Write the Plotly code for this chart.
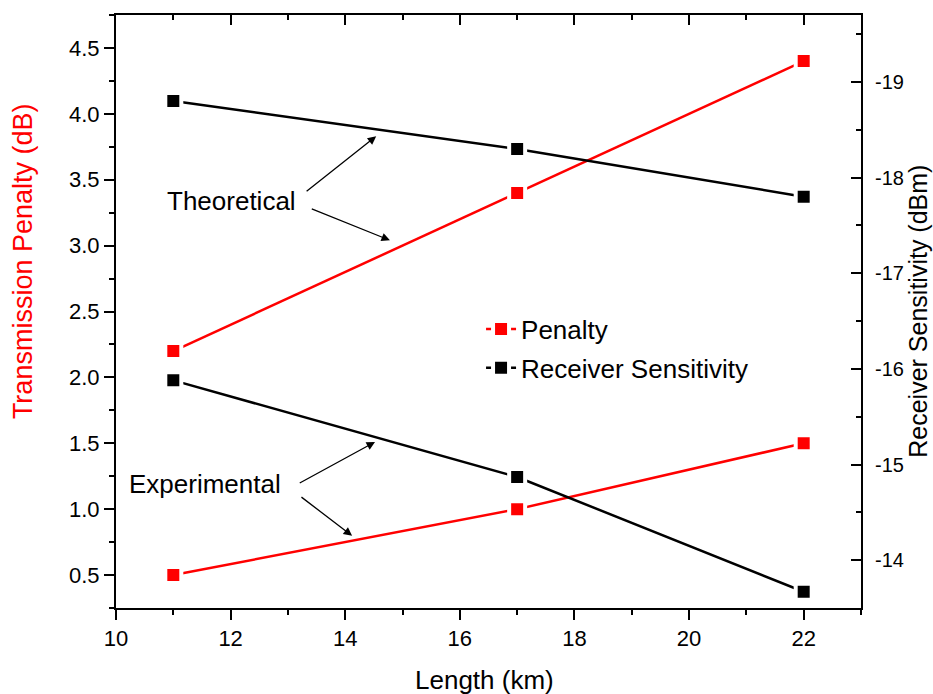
import plotly.graph_objects as go

# ---- data ----
lengths = [11, 17, 22]
penalty_theoretical = [2.2, 3.4, 4.4]
penalty_experimental = [0.5, 1.0, 1.5]
rs_theoretical = [-18.8, -18.3, -17.8]
rs_experimental = [-15.88, -14.87, -13.67]

rs_tick_vals = [-19, -18, -17, -16, -15, -14]
rs_tick_text = ["-19", "-18", "-17", "-16", "-15", "-14"]

FONT = "Liberation Sans, Arial, sans-serif"
RED = "#FF0000"
BLACK = "#000000"

fig = go.Figure()

def marker(color):
    return dict(symbol="square", size=16, color=color, line=dict(color="white", width=4))

fig.add_trace(go.Scatter(x=lengths, y=penalty_theoretical, mode="lines+markers",
                         line=dict(color=RED, width=2.5), marker=marker(RED),
                         name="Penalty", legendgroup="p", showlegend=True))
fig.add_trace(go.Scatter(x=lengths, y=penalty_experimental, mode="lines+markers",
                         line=dict(color=RED, width=2.5), marker=marker(RED),
                         name="Penalty", legendgroup="p", showlegend=False))
fig.add_trace(go.Scatter(x=lengths, y=rs_theoretical, mode="lines+markers", yaxis="y2",
                         line=dict(color=BLACK, width=2.5), marker=marker(BLACK),
                         name="Receiver Sensitivity", legendgroup="r", showlegend=True))
fig.add_trace(go.Scatter(x=lengths, y=rs_experimental, mode="lines+markers", yaxis="y2",
                         line=dict(color=BLACK, width=2.5), marker=marker(BLACK),
                         name="Receiver Sensitivity", legendgroup="r", showlegend=False))
# invisible helper trace so the top axis is drawn
fig.add_trace(go.Scatter(x=lengths, y=penalty_experimental, mode="none", xaxis="x2",
                         showlegend=False, hoverinfo="skip"))

axis_common = dict(showline=True, linewidth=2, linecolor=BLACK, showgrid=False,
                   zeroline=False, tickwidth=2, tickcolor=BLACK, ticklen=10)
tick_font = dict(family=FONT, size=22, color=BLACK)

fig.update_layout(
    width=933, height=694,
    margin=dict(l=116, r=72, t=15, b=86),
    plot_bgcolor="white", paper_bgcolor="white",
    font=dict(family=FONT, color=BLACK),
    xaxis=dict(range=[10, 23], dtick=2, tick0=10, ticks="outside", tickfont=tick_font,
               minor=dict(dtick=1, tick0=10, ticks="outside", ticklen=5, tickwidth=2, tickcolor=BLACK),
               **axis_common),
    xaxis2=dict(range=[10, 23], dtick=2, tick0=10, ticks="inside", overlaying="x", side="top",
                anchor="y", showticklabels=False,
                minor=dict(dtick=1, tick0=10, ticks="inside", ticklen=5, tickwidth=2, tickcolor=BLACK),
                **axis_common),
    yaxis=dict(range=[0.25, 4.75], dtick=0.5, tick0=0.5, ticks="outside", tickformat=".1f",
               tickfont=tick_font,
               minor=dict(dtick=0.25, tick0=0.25, ticks="outside", ticklen=5, tickwidth=2, tickcolor=BLACK),
               **axis_common),
    yaxis2=dict(range=[-13.5, -19.7], overlaying="y", side="right", anchor="x",
                tickmode="array", tickvals=rs_tick_vals, ticktext=rs_tick_text,
                ticks="inside", ticklabelstandoff=8,
                tickfont=dict(family=FONT, size=20, color=BLACK),
                minor=dict(dtick=0.5, tick0=-19.5, ticks="inside", ticklen=5, tickwidth=2, tickcolor=BLACK),
                **axis_common),
    legend=dict(x=0.49, y=0.51, xanchor="left", yanchor="top", bgcolor="rgba(0,0,0,0)",
                font=dict(family=FONT, size=26, color=BLACK), tracegroupgap=2,
                traceorder="grouped"),
    showlegend=True,
)

# axis titles
fig.add_annotation(text="Length (km)", xref="paper", yref="paper", x=0.495, y=-0.121,
                   showarrow=False, xanchor="center", yanchor="middle",
                   font=dict(family=FONT, size=26, color=BLACK))
fig.add_annotation(text="Transmission Penalty (dB)", xref="paper", yref="paper", x=-0.1248, y=0.585,
                   showarrow=False, xanchor="center", yanchor="middle", textangle=-90,
                   font=dict(family=FONT, size=27, color=RED))
fig.add_annotation(text="Receiver Sensitivity (dBm)", xref="paper", yref="paper", x=1.0755, y=0.5,
                   showarrow=False, xanchor="center", yanchor="middle", textangle=-90,
                   font=dict(family=FONT, size=25, color=BLACK))

# labels with arrows
lab_font = dict(family=FONT, size=26, color=BLACK)
fig.add_annotation(text="Theoretical", x=12.02, y=3.336, xref="x", yref="y",
                   showarrow=False, font=lab_font)
fig.add_annotation(text="Experimental", x=11.55, y=1.192, xref="x", yref="y",
                   showarrow=False, font=lab_font)

arrows = [
    (13.30, 3.404, 14.54, 3.83),
    (13.39, 3.283, 14.78, 3.04),
    (13.18, 1.192, 14.52, 1.51),
    (13.21, 1.10, 14.12, 0.798),
]
for tx, ty, hx, hy in arrows:
    fig.add_annotation(x=hx, y=hy, ax=tx, ay=ty, xref="x", yref="y", axref="x", ayref="y",
                       text="", showarrow=True, arrowhead=2, arrowsize=1.3, arrowwidth=1.3,
                       arrowcolor=BLACK)

fig.write_html("out.html")
